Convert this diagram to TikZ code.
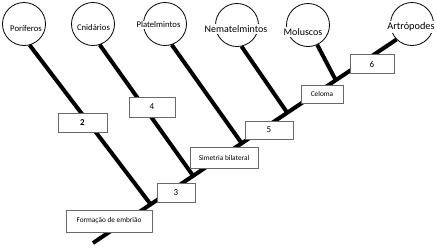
\documentclass[tikz,border=0pt]{standalone}
\usepackage{fontspec}
\setmainfont{Carlito}
\usetikzlibrary{calc}
\definecolor{boxgray}{RGB}{105,105,105}

\begin{document}
\begin{tikzpicture}[
  x=1pt,y=-1pt,
  clade/.style={draw,circle,line width=0.8pt,minimum size=43pt,inner sep=0pt},
  cladename/.style={fill=white,inner sep=1.2pt},
  trait/.style={draw=boxgray,fill=white,line width=0.8pt,inner sep=0pt,
    font=\fontsize{9}{10}\selectfont},
  smalltrait/.style={trait,font=\fontsize{7.3}{9}\selectfont},
  branch/.style={line width=4pt}
]
  \useasboundingbox (0,0) rectangle (437,250);

  % grupos
  \node[clade] (porif) at (24,24) {};
  \node[clade] (cnid) at (93,24) {};
  \node[clade] (plat) at (165,24) {};
  \node[clade] (nemat) at (237,25) {};
  \node[clade] (molus) at (308,25) {};
  \node[clade] (artro) at (412,24) {};

  % tronco e ramos
  \coordinate (root) at (93,243);
  \draw[branch] (root) -- (artro.-135);
  \foreach \x/\a/\t in {porif/-75/0.19,cnid/-72/0.33,plat/-72/0.49,
                        nemat/-78/0.64,molus/-65/0.80} {
    \coordinate (j\x) at ($(root)!\t!(artro.-135)$);
    \draw[branch] (j\x) -- (\x.\a);
  }

  \node[cladename,font=\fontsize{8.7}{10}\selectfont] (porifT) at (26,29) {Poríferos};
  \node[cladename,font=\fontsize{8.7}{10}\selectfont] (cnidT) at (93.5,28) {Cnidários};
  \node[cladename,font=\fontsize{8.7}{10}\selectfont] (platT) at (158.5,25) {Platelmintos};
  \node[cladename,font=\fontsize{10}{11}\selectfont] (nematT) at (236,29) {Nematelmintos};
  \node[cladename,font=\fontsize{10}{11}\selectfont] (molusT) at (303,32) {Moluscos};
  \node[cladename,font=\fontsize{10.3}{11}\selectfont] (artroT) at (411,27) {Artrópodes};

  % caracteristicas
  \node[trait,minimum width=49pt,minimum height=19pt,font=\fontsize{9}{10}\selectfont\bfseries]
    (two) at (82.5,122.5) {2};
  \node[trait,minimum width=46pt,minimum height=20pt] (four) at (152,107) {4};
  \node[smalltrait,minimum width=86pt,minimum height=22pt] (embriao) at (109,221) {Formação de embrião};
  \node[trait,minimum width=38pt,minimum height=19pt] (three) at (176,192.5) {3};
  \node[smalltrait,minimum width=68pt,minimum height=21pt] (simetria) at (224,157.5) {Simetria bilateral};
  \node[trait,minimum width=48pt,minimum height=18pt] (five) at (269,130) {5};
  \node[smalltrait,minimum width=42pt,minimum height=18pt] (celoma) at (322,94) {Celoma};
  \node[trait,minimum width=44pt,minimum height=19pt] (six) at (372,64) {6};
\end{tikzpicture}
\end{document}
